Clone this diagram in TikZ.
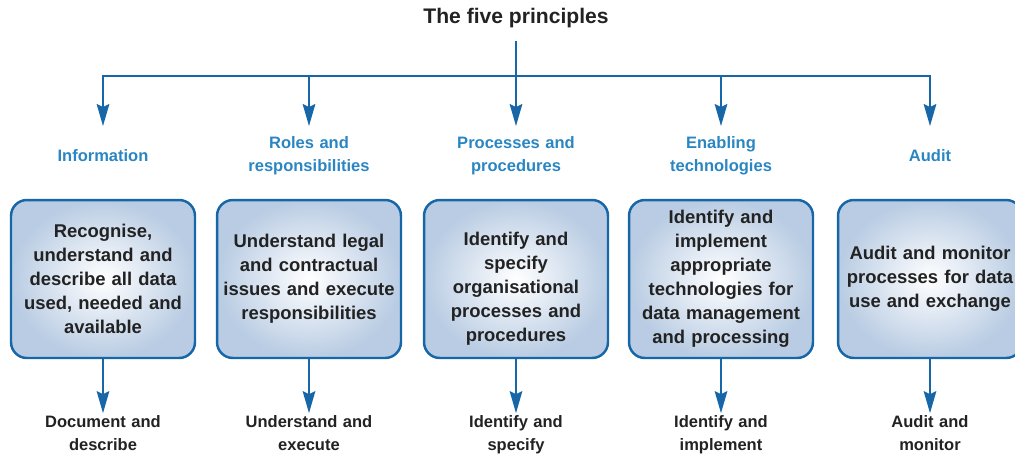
\documentclass[tikz,border=0pt]{standalone}
\usepackage{fontspec}
\setmainfont{Liberation Sans}
\usetikzlibrary{arrows.meta}
\usetikzlibrary{positioning}

\definecolor{lineblue}{HTML}{1766A8}
\definecolor{headblue}{HTML}{2A86C2}
\definecolor{boxedge}{HTML}{B9CCE3}
\definecolor{textgrey}{HTML}{222222}

\tikzset{
  principle/.style={draw=lineblue,line width=1.4pt,rounded corners=9pt,
    shading=radial,inner color=white,outer color=boxedge,inner xsep=0pt,
    minimum width=3.68cm,minimum height=3.16cm,text width=3.6cm,align=center,
    font=\fontsize{10.5}{13.7}\selectfont\bfseries,text=textgrey},
  heading/.style={minimum height=1.16cm,text width=3.6cm,align=center,inner sep=0pt,
    font=\fontsize{9.4}{13}\selectfont\bfseries,text=headblue},
  outcome/.style={text width=3.6cm,align=center,inner sep=1pt,
    font=\fontsize{9.4}{13}\selectfont\bfseries,text=textgrey},
  link/.style={draw=lineblue,line width=1.4pt},
  arrow/.style={link,-{Stealth[length=0.44cm,width=0.25cm,inset=0.06cm]}}
}

\begin{document}
\begin{tikzpicture}[x=0.02cm,y=-0.02cm]
\useasboundingbox (0,0) rectangle (1015,457);

\node[font=\fontsize{12}{14}\selectfont\bfseries,text=textgrey,inner sep=0pt] (title) at (516,18) {The five principles};
\coordinate (bar) at (516,76);

% the five boxes
\node[principle] (info) at (103,279) {Recognise,\\understand and\\describe all data\\used, needed and\\available};
\node[principle] (roles) at (309,279) {Understand legal\\and contractual\\issues and execute\\responsibilities};
\node[principle] (proc) at (516,279) {\rule{0pt}{19pt}Identify and\\specify\\organisational\\processes and\\procedures};
\node[principle] (tech) at (721,279) {Identify and\\implement\\appropriate\\technologies for\\data management\\and processing};
\node[principle] (audit) at (930,279) {Audit and monitor\\processes for data\\use and exchange};

% headings above
\node[heading,above=0.28cm of info] (infohead) {Information};
\node[heading,above=0.28cm of roles] (roleshead) {Roles and\\responsibilities};
\node[heading,above=0.28cm of proc] (prochead) {Processes and\\procedures};
\node[heading,above=0.28cm of tech] (techhead) {Enabling\\technologies};
\node[heading,above=0.28cm of audit] (audithead) {Audit};

% outcomes below
\node[outcome,below=1.08cm of info] (infoout) {Document and\\describe};
\node[outcome,below=1.08cm of roles] (rolesout) {Understand and\\execute};
\node[outcome,below=1.08cm of proc] (procout) {Identify and\\specify};
\node[outcome,below=1.08cm of tech] (techout) {Identify and\\implement};
\node[outcome,below=1.08cm of audit] (auditout) {Audit and\\monitor};

\draw[link] ([yshift=-0.26cm]title.south) -- (bar);
\draw[arrow] (bar) -| (infohead.north);
\draw[arrow] (bar) -| (roleshead.north);
\draw[arrow] (bar) -- (prochead.north);
\draw[arrow] (bar) -| (techhead.north);
\draw[arrow] (bar) -| (audithead.north);

\draw[arrow] (info) -- (infoout);
\draw[arrow] (roles) -- (rolesout);
\draw[arrow] (proc) -- (procout);
\draw[arrow] (tech) -- (techout);
\draw[arrow] (audit) -- (auditout);

\end{tikzpicture}
\end{document}
